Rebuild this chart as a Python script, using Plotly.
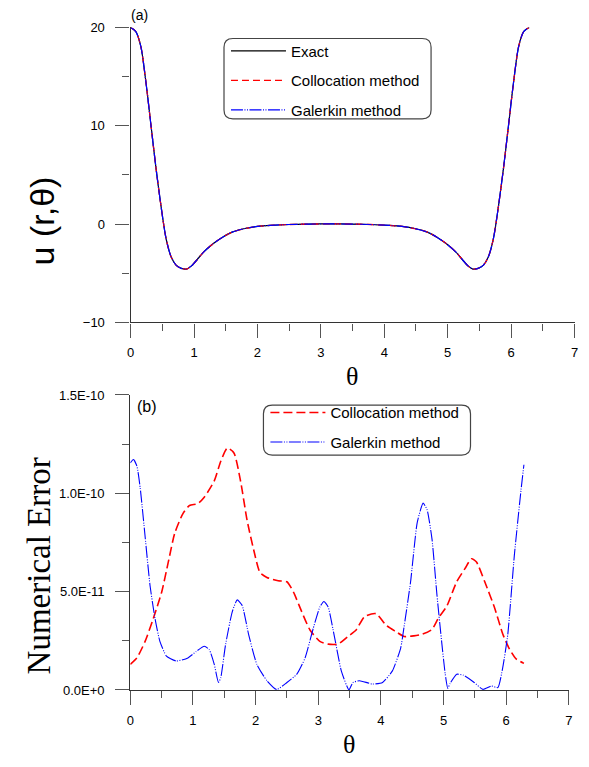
import plotly.graph_objects as go

# ---------------- data ----------------
theta_u = [0.0, 0.08, 0.16, 0.24, 0.32, 0.40, 0.48, 0.56, 0.64, 0.72, 0.80, 0.88, 0.96,
           1.05, 1.15, 1.30, 1.45, 1.60, 1.80, 2.00, 2.20, 2.50, 2.80, 3.1416,
           3.48, 3.78, 4.08, 4.28, 4.48, 4.68, 4.83, 4.98, 5.13, 5.23, 5.32, 5.40,
           5.48, 5.56, 5.64, 5.72, 5.80, 5.88, 5.96, 6.04, 6.12, 6.20, 6.2832]
u_exact = [20.0, 19.6, 18.1, 14.5, 10.1, 5.7, 1.8, -1.5, -3.35, -4.2, -4.5, -4.57, -4.25,
           -3.6, -2.85, -2.0, -1.33, -0.82, -0.45, -0.24, -0.13, -0.04, 0.0, 0.02,
           0.0, -0.04, -0.13, -0.24, -0.45, -0.82, -1.33, -2.0, -2.85, -3.6, -4.25, -4.57,
           -4.5, -4.2, -3.35, -1.5, 1.8, 5.7, 10.1, 14.5, 18.1, 19.6, 20.0]
u_colloc = list(u_exact)
u_galerkin = list(u_exact)

theta_c = [0.0, 0.105, 0.236, 0.367, 0.5, 0.604, 0.709, 0.84, 0.945, 1.076, 1.18, 1.34,
           1.444, 1.549, 1.654, 1.759, 1.864, 1.969, 2.07, 2.18, 2.36, 2.5, 2.605, 2.737,
           2.868, 3.026, 3.158, 3.316, 3.474, 3.605, 3.737, 3.92, 4.08, 4.237, 4.37, 4.526,
           4.658, 4.816, 4.92, 5.05, 5.21, 5.342, 5.447, 5.526, 5.658, 5.816, 5.947, 6.053,
           6.158, 6.2832]
err_c = [1.3, 1.63, 2.47, 3.63, 4.97, 6.47, 7.97, 8.97, 9.38, 9.47, 9.8, 10.63,
         11.63, 12.3, 12.05, 10.63, 8.63, 7.13, 5.97, 5.72, 5.55, 5.5, 4.97, 3.97,
         3.05, 2.47, 2.33, 2.33, 2.72, 3.05, 3.72, 3.88, 3.3, 2.97, 2.72, 2.75,
         2.83, 3.08, 3.67, 4.25, 5.5, 6.17, 6.67, 6.5, 5.5, 4.17, 2.83, 2.08,
         1.58, 1.35]

theta_g = [0.0, 0.05, 0.105, 0.157, 0.236, 0.315, 0.394, 0.472, 0.577, 0.735, 0.919, 1.05,
           1.18, 1.26, 1.34, 1.407, 1.444, 1.52, 1.627, 1.706, 1.785, 1.89, 2.02, 2.18,
           2.336, 2.5, 2.658, 2.79, 2.92, 3.026, 3.09, 3.158, 3.263, 3.368, 3.49, 3.553,
           3.658, 3.868, 4.026, 4.184, 4.316, 4.368, 4.474, 4.579, 4.674, 4.737, 4.816,
           4.895, 4.974, 5.026, 5.068, 5.105, 5.21, 5.316, 5.474, 5.63, 5.763, 5.868,
           5.947, 6.026, 6.13, 6.237, 6.2832]
err_g = [11.55, 11.72, 11.38, 10.3, 7.8, 5.3, 3.63, 2.47, 1.72, 1.47, 1.63, 1.95,
         2.22, 2.05, 1.3, 0.38, 0.63, 2.3, 3.97, 4.58, 4.3, 2.8, 1.3, 0.47,
         0.02, 0.38, 0.8, 1.63, 3.13, 4.22, 4.5, 4.22, 2.63, 0.97, 0.0, 0.38,
         0.47, 0.3, 0.38, 0.97, 2.13, 3.17, 5.5, 8.5, 9.5, 9.17, 7.67,
         4.83, 2.33, 0.83, 0.08, 0.33, 0.8, 0.75, 0.42, 0.03, 0.2, 0.12,
         1.17, 2.83, 6.83, 10.17, 11.45]
err_scale = 1e-11

x_ticks = [0, 1, 2, 3, 4, 5, 6, 7]
y1_ticks = [-10, 0, 10, 20]
y2_ticks = [0, 5e-11, 1e-10, 1.5e-10]
y2_ticktext = ["0.0E+0", "5.0E-11", "1.0E-10", "1.5E-10"]

# ---------------- figure ----------------
PAGE_W, PAGE_H = 589, 767
BODY_MARGIN = 8  # default browser body margin
W, H = PAGE_W - 2 * BODY_MARGIN, PAGE_H - 2 * BODY_MARGIN
def px(x): return (x - BODY_MARGIN) / W
def py(y): return 1 - (y - BODY_MARGIN) / H

RED = "#ff0000"
BLUE = "#0000ff"
BLUE_DASH = "12px,1.5px,1px,1.5px,1px,1.5px"

fig = go.Figure()
fig.add_trace(go.Scatter(x=theta_u, y=u_exact, mode="lines", name="Exact",
                         line=dict(color="black", width=1.2, shape="spline", smoothing=0.8),
                         xaxis="x", yaxis="y", legend="legend", legendgroup="a1"))
fig.add_trace(go.Scatter(x=theta_u, y=u_colloc, mode="lines", name="Collocation method",
                         line=dict(color=RED, width=1.3, dash="7px,4px", shape="spline", smoothing=0.8),
                         xaxis="x", yaxis="y", legend="legend", legendgroup="a2"))
fig.add_trace(go.Scatter(x=theta_u, y=u_galerkin, mode="lines", name="Galerkin method",
                         line=dict(color=BLUE, width=1.2, dash=BLUE_DASH, shape="spline", smoothing=0.8),
                         xaxis="x", yaxis="y", legend="legend", legendgroup="a3"))

fig.add_trace(go.Scatter(x=theta_c, y=[v * err_scale for v in err_c], mode="lines",
                         name="Collocation method",
                         line=dict(color=RED, width=1.6, dash="9px,4px", shape="spline", smoothing=0.6),
                         xaxis="x2", yaxis="y2", legend="legend2", legendgroup="b1"))
fig.add_trace(go.Scatter(x=theta_g, y=[v * err_scale for v in err_g], mode="lines",
                         name="Galerkin method",
                         line=dict(color=BLUE, width=1.1, dash=BLUE_DASH, shape="spline", smoothing=0.5),
                         xaxis="x2", yaxis="y2", legend="legend2", legendgroup="b2"))

FONT = "Liberation Sans, Arial, sans-serif"
SERIF = "Liberation Serif, Times New Roman, serif"
AX = "#333333"

xcommon = dict(range=[0, 7], tickmode="array", tickvals=x_ticks, ticks="outside",
               ticklen=14, tickwidth=1.3, tickcolor="#555", showline=True, linecolor=AX,
               linewidth=1.3, showgrid=False, zeroline=False,
               tickfont=dict(family=FONT, size=13, color="black"), ticklabelstandoff=4,
               minor=dict(tickmode="array", tickvals=[0.5, 1.5, 2.5, 3.5, 4.5, 5.5, 6.5],
                          ticks="outside", ticklen=7, tickwidth=1.3, tickcolor="#555",
                          showgrid=False))

fig.update_layout(
    width=W, height=H, margin=dict(l=0, r=0, t=0, b=0),
    paper_bgcolor="white", plot_bgcolor="white",
    font=dict(family=FONT, color="black"),
    xaxis=dict(domain=[px(128.3), px(578.5)], anchor="y", **xcommon),
    yaxis=dict(domain=[py(321.7), py(20.7)], anchor="x", range=[-10, 20],
               tickmode="array", tickvals=y1_ticks, ticks="outside", ticklen=14,
               tickwidth=1.3, tickcolor="#555", showline=True, linecolor=AX, linewidth=1.3,
               showgrid=False, zeroline=False, ticklabelstandoff=8,
               tickfont=dict(family=FONT, size=13, color="black"),
               minor=dict(tickmode="array", tickvals=[-5, 5, 15], ticks="outside",
                          ticklen=7, tickwidth=1.3, tickcolor="#555", showgrid=False)),
    xaxis2=dict(domain=[px(128.0), px(572.7)], anchor="y2", **xcommon),
    yaxis2=dict(domain=[py(696.7), py(395.7)], anchor="x2", range=[0, 1.5e-10],
                tickmode="array", tickvals=y2_ticks, ticktext=y2_ticktext, ticks="outside",
                ticklen=14, tickwidth=1.3, tickcolor="#555", showline=True, linecolor=AX,
                linewidth=1.3, showgrid=False, zeroline=False, ticklabelstandoff=8,
                tickfont=dict(family=FONT, size=13, color="black"),
                minor=dict(tickmode="array", tickvals=[2.5e-11, 7.5e-11, 1.25e-10],
                           ticks="outside", ticklen=7, tickwidth=1.3, tickcolor="#555",
                           showgrid=False)),
    legend=dict(x=px(225), y=py(28), xanchor="left", yanchor="top",
                bgcolor="rgba(0,0,0,0)", borderwidth=0, itemwidth=55,
                tracegroupgap=7, font=dict(family=FONT, size=15, color="black")),
    legend2=dict(x=px(265), y=py(397), xanchor="left", yanchor="top",
                 bgcolor="rgba(0,0,0,0)", borderwidth=0, itemwidth=55,
                 tracegroupgap=7, font=dict(family=FONT, size=15, color="black")),
    showlegend=True,
)

def rrect(x0, y0, x1, y1, r=9):
    X = lambda v: f"{px(v):.5f}"
    Y = lambda v: f"{py(v):.5f}"
    p = (f"M {X(x0+r)},{Y(y0)} L {X(x1-r)},{Y(y0)} Q {X(x1)},{Y(y0)} {X(x1)},{Y(y0+r)} "
         f"L {X(x1)},{Y(y1-r)} Q {X(x1)},{Y(y1)} {X(x1-r)},{Y(y1)} "
         f"L {X(x0+r)},{Y(y1)} Q {X(x0)},{Y(y1)} {X(x0)},{Y(y1-r)} "
         f"L {X(x0)},{Y(y0+r)} Q {X(x0)},{Y(y0)} {X(x0+r)},{Y(y0)} Z")
    return dict(type="path", xref="paper", yref="paper", path=p,
                line=dict(color="#444", width=1.2), fillcolor="rgba(0,0,0,0)", layer="above")

fig.update_layout(shapes=[rrect(223, 32, 433, 114), rrect(263, 406, 473, 457)])

ann = [
    dict(text="(a)", x=px(137), y=py(8), font=dict(family=FONT, size=14)),
    dict(text="(b)", x=px(145), y=py(407), font=dict(family=FONT, size=16)),
    dict(text="θ", x=px(353), y=py(377), font=dict(family=SERIF, size=26)),
    dict(text="θ", x=px(350), y=py(752), font=dict(family=SERIF, size=26)),
    dict(text="u (r,θ)", x=px(38), y=py(218), textangle=-90,
         font=dict(family=FONT, size=34)),
    dict(text="Numerical Error", x=px(35), y=py(570), textangle=-90,
         font=dict(family=SERIF, size=33)),
]
for a in ann:
    a.update(xref="paper", yref="paper", showarrow=False, xanchor="center", yanchor="middle")
fig.update_layout(annotations=ann)

fig.write_html("out.html", config={"displayModeBar": False})
